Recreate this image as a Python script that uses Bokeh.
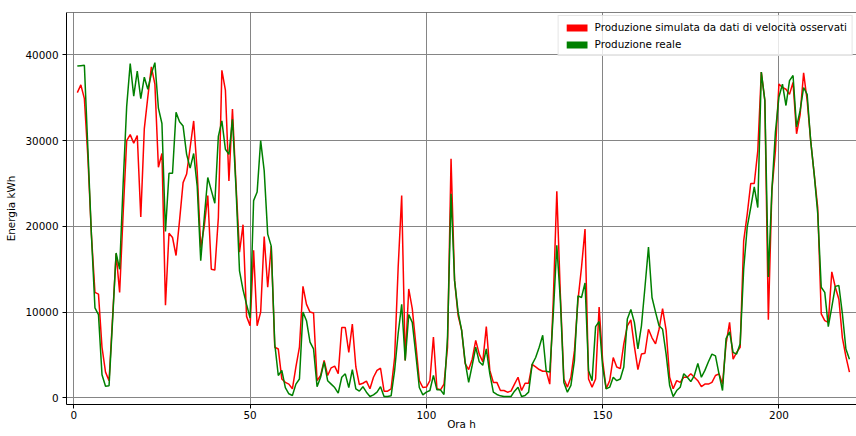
from bokeh.plotting import figure
from bokeh.models import Range1d, FixedTicker, Legend, LegendItem, Span
from bokeh.embed import file_html
from bokeh.resources import INLINE

hours = list(range(1, 221))

simulata = [
    35600, 36500, 34900, 28000, 19000, 12300, 12100, 5900, 3000, 2000,
    9400, 16800, 12300, 21500, 30000, 30700, 29700, 30600, 21100, 31400,
    35100, 38600, 36600, 26900, 28500, 10800, 19200, 18700, 16600, 20700,
    25100, 26100, 29200, 32300, 26400, 17500, 20000, 23600, 15000, 14900,
    21000, 38200, 35900, 25300, 33700, 25000, 17000, 20200, 9500, 8400,
    17200, 8400, 10000, 18800, 12900, 17700, 5900, 5700, 2200, 1800,
    1600, 1050, 3600, 5900, 13000, 10900, 10000, 9900, 2000, 2600,
    4350, 2600, 3500, 3700, 2800, 8200, 8200, 5300, 8600, 3600,
    1550, 1700, 1950, 1050, 2400, 3200, 3450, 780, 780, 1050,
    4700, 15200, 23600, 4350, 12700, 10400, 6300, 2000, 1200, 1250,
    2000, 7100, 1050, 930, 1600, 5900, 27900, 13700, 9600, 7900,
    4000, 3300, 4500, 6700, 5100, 4200, 8300, 3200, 1800, 1800,
    850, 850, 660, 780, 1600, 2400, 850, 1700, 1700, 3900,
    3600, 3300, 3100, 3100, 1600, 11400, 24100, 12100, 2200, 1250,
    2400, 5500, 11400, 15200, 19700, 2200, 1250, 2200, 10600, 4350,
    1050, 2000, 4700, 3600, 3400, 6300, 8400, 9100, 6000, 3300,
    5100, 5200, 8000, 7000, 6300, 8000, 10400, 7900, 2400, 1050,
    2000, 1800, 2400, 2400, 2800, 2400, 2000, 1300, 1600, 1600,
    1800, 2600, 2800, 1600, 6300, 8800, 4500, 5300, 5900, 18300,
    21400, 25000, 25000, 28800, 38000, 34700, 9100, 24200, 28800, 36600,
    36200, 36000, 35400, 36800, 30800, 33000, 37900, 34700, 30000, 26100,
    22200, 9800, 9000, 8800, 14700, 12900, 11500, 7000, 4800, 3000,
]

reale = [
    38700, 38750, 38800, 29000, 19000, 10500, 9700, 2700, 1360, 1400,
    9000, 16900, 15000, 25000, 34000, 39000, 35200, 38100, 34900, 37400,
    36000, 37800, 39100, 33800, 32000, 19400, 26200, 26200, 33300, 32200,
    31700, 28400, 26800, 28500, 24700, 16000, 21000, 25700, 24200, 22700,
    30500, 32300, 29000, 28400, 32500, 24500, 14800, 12600, 10900, 9300,
    23000, 24000, 30000, 26500, 19100, 17700, 6300, 2600, 3200, 1200,
    470, 270, 1600, 2200, 10000, 9000, 6500, 5700, 1300, 2400,
    4200, 2000, 1600, 1200, 540, 2400, 2800, 1200, 3300, 1050,
    780, 1300, 660, 150, 350, 660, 1300, 150, 150, 230,
    3200, 7500, 10900, 4350, 9700, 8800, 5100, 1200, 350, 660,
    850, 2600, 930, 930, 390, 7100, 23800, 13700, 10000, 7900,
    4200, 1800, 3800, 5900, 4200, 3800, 5700, 2800, 660, 390,
    230, 150, 150, 150, 780, 1240, 150, 270, 660, 3900,
    4700, 5900, 7300, 3100, 3000, 9800, 17800, 11400, 1800, 660,
    1440, 4350, 11900, 11700, 13400, 3200, 2000, 8300, 8900, 3600,
    1050, 1240, 2400, 2000, 2200, 3600, 9200, 10300, 8800, 5700,
    8400, 12900, 17600, 11700, 10000, 8400, 8000, 5100, 1440, 150,
    850, 1240, 2800, 2400, 1900, 2600, 4000, 2400, 3200, 4200,
    5100, 4900, 2800, 850, 6900, 7700, 5300, 5100, 6300, 15000,
    19900, 22200, 24600, 22200, 38000, 34700, 14100, 24200, 31000, 35100,
    36600, 34100, 37000, 37600, 31600, 33500, 36200, 35400, 30000, 26100,
    21500, 12900, 12300, 8300, 10600, 13000, 13100, 9800, 5700, 4500,
]

x_ticks = [0, 50, 100, 150, 200]
y_ticks = [0, 10000, 20000, 30000, 40000]
label_sim = "Produzione simulata da dati di velocità osservati"
label_real = "Produzione reale"
x_label = "Ora h"
y_label = "Energia kWh"

FONT = "DejaVu Sans"
Y0, Y1 = -780, 44950

p = figure(
    width=856, height=436,
    output_backend="svg", toolbar_location=None,
    x_range=Range1d(-2.07, 222.0), y_range=Range1d(Y0, Y1),
    min_border_left=66, min_border_right=0, min_border_top=12, min_border_bottom=32,
)
p.outline_line_color = None
p.background_fill_color = "white"
p.border_fill_color = "white"

for ax in (p.xaxis[0], p.yaxis[0]):
    ax.axis_line_color = "black"
    ax.axis_line_width = 1
    ax.major_tick_line_color = "black"
    ax.major_tick_out = 4
    ax.major_tick_in = 0
    ax.minor_tick_line_color = None
    ax.major_label_text_font = FONT
    ax.major_label_text_font_size = "10.4px"
    ax.major_label_text_color = "black"
    ax.axis_label_text_font = FONT
    ax.axis_label_text_font_size = "10.4px"
    ax.axis_label_text_font_style = "normal"
    ax.axis_label_text_color = "black"

p.xaxis[0].ticker = FixedTicker(ticks=x_ticks)
p.yaxis[0].ticker = FixedTicker(ticks=y_ticks)
p.xaxis[0].axis_label = x_label
p.yaxis[0].axis_label = y_label
p.xaxis[0].major_label_standoff = 2
p.xaxis[0].axis_label_standoff = -4
p.yaxis[0].major_label_standoff = 4
p.yaxis[0].axis_label_standoff = 5

p.xgrid.ticker = FixedTicker(ticks=x_ticks)
p.ygrid.ticker = FixedTicker(ticks=y_ticks)
for g in (p.xgrid[0], p.ygrid[0]):
    g.grid_line_color = "#858585"
    g.grid_line_width = 1

p.add_layout(Span(location=Y1, dimension="width", line_color="black", line_width=1))

r_sim = p.line(hours, simulata, line_color="#ff0000", line_width=1.5)
r_real = p.line(hours, reale, line_color="#008000", line_width=1.5)

nan = float("nan")
q_sim = p.quad(left=[nan], right=[nan], top=[nan], bottom=[nan], fill_color="#ff0000", line_color=None)
q_real = p.quad(left=[nan], right=[nan], top=[nan], bottom=[nan], fill_color="#008000", line_color=None)

legend = Legend(
    items=[LegendItem(label=label_sim, renderers=[q_sim]),
           LegendItem(label=label_real, renderers=[q_real])],
    location="top_right",
    margin=3, padding=5, spacing=5,
    glyph_width=26, glyph_height=9, label_height=12, label_standoff=5,
    label_text_font=FONT, label_text_font_size="10.4px", label_text_color="black",
    border_line_color="#cccccc", border_line_width=1,
    background_fill_color="white", background_fill_alpha=0.8,
)
p.add_layout(legend)

open("out.html", "w").write(file_html(p, INLINE))
